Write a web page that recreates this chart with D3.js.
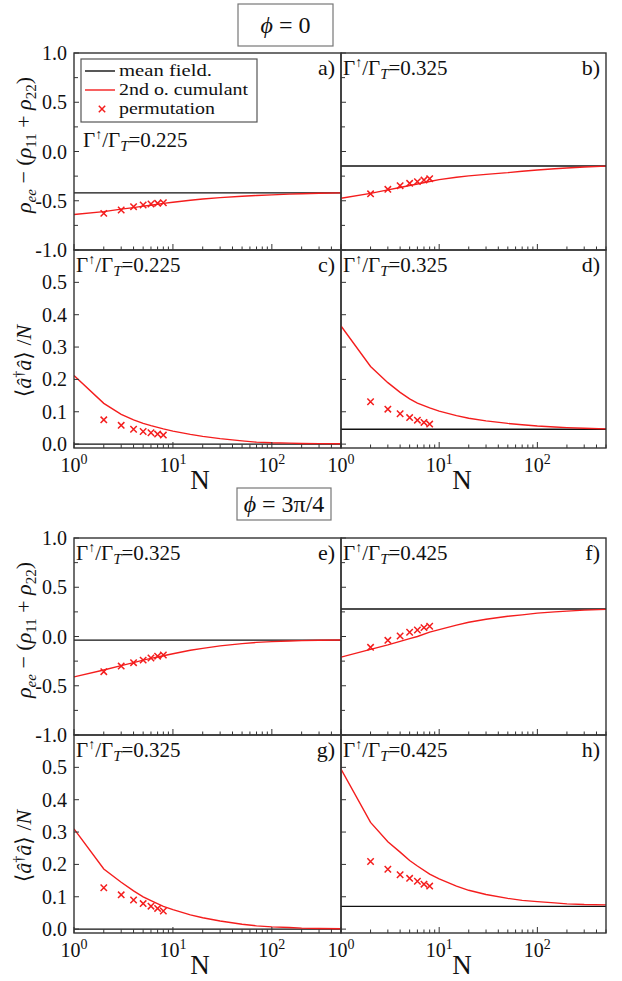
<!DOCTYPE html>
<html><head><meta charset="utf-8">
<script src="https://cdn.jsdelivr.net/npm/d3@7"></script>
<style>
body{margin:0;background:#fff}
svg text{font-family:'Liberation Serif','DejaVu Serif',serif;fill:#111}
</style>
</head><body>
<svg id="chart" width="622" height="981" font-family="Liberation Serif, DejaVu Serif, serif"></svg>
<script>
// ---------------- data ----------------
const nGrid = [1,2,3,4,5,6,8,10,15,20,30,50,70,100,150,200,300,500];
const nPerm = [2,3,4,5,6,7,8];
const panelLetters = ["a","b","c","d","e","f","g","h"];
const gammaLabels = ["0.225","0.325","0.225","0.325","0.325","0.425","0.325","0.425"];
const meanFieldValues = [-0.42,-0.147,0.0,0.046,-0.036,0.279,0.0,0.07];

const cumA = [-0.64,-0.61,-0.585,-0.57,-0.555,-0.545,-0.527,-0.515,-0.495,-0.482,-0.468,-0.455,-0.447,-0.44,-0.433,-0.429,-0.424,-0.42];
const cumB = [-0.475,-0.425,-0.39,-0.365,-0.345,-0.33,-0.305,-0.285,-0.262,-0.248,-0.232,-0.215,-0.2,-0.188,-0.175,-0.167,-0.157,-0.148];
const cumC = [0.212,0.126,0.092,0.075,0.064,0.057,0.047,0.04,0.03,0.024,0.017,0.01,0.006,0.004,0.003,0.002,0.0015,0.001];
const cumD = [0.365,0.24,0.19,0.16,0.14,0.127,0.112,0.102,0.088,0.08,0.072,0.064,0.06,0.056,0.053,0.051,0.049,0.047];
const cumE = [-0.41,-0.34,-0.295,-0.265,-0.24,-0.222,-0.195,-0.175,-0.14,-0.12,-0.095,-0.072,-0.06,-0.052,-0.045,-0.042,-0.038,-0.036];
const cumF = [-0.21,-0.13,-0.085,-0.05,-0.022,0.0,0.045,0.07,0.115,0.145,0.175,0.205,0.22,0.237,0.25,0.258,0.268,0.275];
const cumG = [0.31,0.186,0.145,0.118,0.1,0.088,0.07,0.06,0.044,0.035,0.025,0.015,0.01,0.007,0.005,0.003,0.002,0.001];
const cumH = [0.495,0.33,0.27,0.238,0.212,0.195,0.17,0.155,0.133,0.12,0.107,0.095,0.089,0.085,0.081,0.078,0.076,0.075];

const permA = [-0.628,-0.594,-0.56,-0.543,-0.533,-0.526,-0.52];
const permB = [-0.43,-0.384,-0.347,-0.323,-0.306,-0.29,-0.276];
const permC = [0.075,0.058,0.046,0.039,0.035,0.031,0.028];
const permD = [0.131,0.108,0.094,0.082,0.074,0.067,0.062];
const permE = [-0.357,-0.3,-0.266,-0.24,-0.218,-0.2,-0.188];
const permF = [-0.11,-0.039,0.005,0.043,0.066,0.09,0.104];
const permG = [0.128,0.106,0.09,0.079,0.071,0.064,0.056];
const permH = [0.209,0.185,0.168,0.157,0.148,0.139,0.133];

const cumulants = [cumA,cumB,cumC,cumD,cumE,cumF,cumG,cumH];
const perms = [permA,permB,permC,permD,permE,permF,permG,permH];

const rhoTicks = [-1,-0.5,0,0.5,1];
const rhoMinor = [-0.75,-0.25,0.25,0.75];
const photonTicks = [0,0.1,0.2,0.3,0.4,0.5];
const xMajor = [1,10,100];
const xMinor = [2,3,4,5,6,7,8,9,20,30,40,50,60,70,80,90,200,300,400,500];
const titles = [["ϕ"," = 0"],["ϕ"," = 3π/4"]];
const legendLabels = ["mean field.","2nd o. cumulant","permutation"];

// ---------------- layout ----------------
const FONT = "'Liberation Serif','DejaVu Serif',serif";
const svg = d3.select("#chart");
const colX = [[74,341],[341,606]];
const setTop = [53,538];
const rowH = [197,198];
const RED = "#f41d1d";
const FRAME = "#333";

const defs = svg.append("defs");
function txt(sel){ return sel.append("text").style("font-family",FONT).attr("fill","#111"); }

function gammaText(g, x, y, val){
  const t = txt(g).attr("x",x).attr("y",y).attr("font-size",21);
  t.append("tspan").text("Γ");
  t.append("tspan").text("↑").attr("font-size",14).attr("dy",-8);
  t.append("tspan").text("/Γ").attr("dy",8);
  t.append("tspan").text("T").attr("font-style","italic").attr("font-size",15).attr("dy",4);
  t.append("tspan").text("="+val).attr("dy",-4);
}

panelLetters.forEach((letter,i)=>{
  const set = Math.floor(i/4);
  const row = Math.floor((i%4)/2);
  const col = i%2;
  const x0 = colX[col][0], x1 = colX[col][1];
  const y0 = setTop[set] + (row===0?0:rowH[0]);
  const y1 = y0 + rowH[row];
  const isRho = row===0;

  const x = d3.scaleLog().domain([1,500]).range([x0,x1]);
  const y = isRho ? d3.scaleLinear().domain([-1,1]).range([y1,y0])
                  : d3.scaleLinear().domain([-0.012,0.6]).range([y1,y0]);

  const g = svg.append("g");
  const cid = "clip"+i;
  defs.append("clipPath").attr("id",cid).append("rect")
    .attr("x",x0).attr("y",y0).attr("width",x1-x0).attr("height",y1-y0);
  const plot = g.append("g").attr("clip-path",`url(#${cid})`);

  plot.append("line").attr("x1",x0).attr("x2",x1)
    .attr("y1",y(meanFieldValues[i])).attr("y2",y(meanFieldValues[i]))
    .attr("stroke","#111").attr("stroke-width",1.3);
  const line = d3.line().x((d,k)=>x(nGrid[k])).y(d=>y(d));
  plot.append("path").datum(cumulants[i]).attr("d",line)
    .attr("fill","none").attr("stroke",RED).attr("stroke-width",1.4);
  const s = 3.2;
  perms[i].forEach((v,k)=>{
    const cx = x(nPerm[k]), cy = y(v);
    plot.append("path").attr("d",`M${cx-s},${cy-s}L${cx+s},${cy+s}M${cx-s},${cy+s}L${cx+s},${cy-s}`)
      .attr("stroke",RED).attr("stroke-width",1.5);
  });

  const yT = isRho ? rhoTicks : photonTicks;
  yT.forEach(v=>{
    g.append("line").attr("x1",x0).attr("x2",x0+5).attr("y1",y(v)).attr("y2",y(v)).attr("stroke",FRAME).attr("stroke-width",1);
  });
  if(isRho) rhoMinor.forEach(v=>{
    g.append("line").attr("x1",x0).attr("x2",x0+4).attr("y1",y(v)).attr("y2",y(v)).attr("stroke",FRAME).attr("stroke-width",1);
  });
  if(col===0){
    yT.forEach(v=>{
      txt(g).attr("x",67).attr("y",y(v)).attr("dy","0.35em")
        .attr("text-anchor","end").attr("font-size",20)
        .text(d3.format(".1f")(v).replace("−","-"));
    });
  }
  xMajor.forEach(v=>{
    g.append("line").attr("x1",x(v)).attr("x2",x(v)).attr("y1",y1).attr("y2",y1-6).attr("stroke",FRAME).attr("stroke-width",1);
  });
  xMinor.forEach(v=>{
    g.append("line").attr("x1",x(v)).attr("x2",x(v)).attr("y1",y1).attr("y2",y1-3.5).attr("stroke",FRAME).attr("stroke-width",1);
  });
  if(!isRho){
    xMajor.forEach((v,k)=>{
      const t = txt(g).attr("x",x(v)).attr("y",y1+24).attr("text-anchor","middle").attr("font-size",20);
      t.append("tspan").text("10");
      t.append("tspan").text(String(k)).attr("font-size",14).attr("dy",-8);
    });
    txt(g).attr("x",col===0?200:462).attr("y",y1+41).attr("text-anchor","middle")
      .attr("font-size",27).text("N");
  }

  g.append("rect").attr("x",x0).attr("y",y0).attr("width",x1-x0).attr("height",y1-y0)
    .attr("fill","none").attr("stroke",FRAME).attr("stroke-width",1.4);

  txt(g).attr("x",x1-6).attr("y",y0+22).attr("text-anchor","end").attr("font-size",22).text(letter+")");

  if(i===0) gammaText(g, x0+9, y0+94, gammaLabels[i]);
  else gammaText(g, x0+2, y0+22, gammaLabels[i]);

  if(i===0){
    const lg = g.append("g");
    lg.append("rect").attr("x",81).attr("y",59).attr("width",176).attr("height",63)
      .attr("fill","#fff").attr("stroke","#555").attr("stroke-width",1.2);
    const kinds = [["line","#111"],["line",RED],["cross",RED]];
    const widths = [93,129,96];
    legendLabels.forEach((lab,k)=>{
      const ly = 71 + k*19;
      if(kinds[k][0]==="line"){
        lg.append("line").attr("x1",85).attr("x2",115).attr("y1",ly).attr("y2",ly).attr("stroke",kinds[k][1]).attr("stroke-width",1.4);
      } else {
        const cx=102, s2=3.2;
        lg.append("path").attr("d",`M${cx-s2},${ly-s2}L${cx+s2},${ly+s2}M${cx-s2},${ly+s2}L${cx+s2},${ly-s2}`)
          .attr("stroke",kinds[k][1]).attr("stroke-width",1.5);
      }
      txt(lg).attr("x",119).attr("y",ly).attr("dy","0.32em").attr("font-size",17)
        .attr("textLength",widths[k]).attr("lengthAdjust","spacingAndGlyphs").text(lab);
    });
  }
});

[0,1].forEach(set=>{
  const top = setTop[set];
  const t1 = txt(svg).attr("transform",`translate(31,${top+92}) rotate(-90)`)
    .attr("text-anchor","middle").attr("font-size",22);
  t1.append("tspan").text("ρ").attr("font-style","italic");
  t1.append("tspan").text("ee").attr("font-style","italic").attr("font-size",15).attr("dy",5);
  t1.append("tspan").text(" − (").attr("dy",-5);
  t1.append("tspan").text("ρ").attr("font-style","italic");
  t1.append("tspan").text("11").attr("font-size",15).attr("dy",5);
  t1.append("tspan").text(" + ").attr("dy",-5);
  t1.append("tspan").text("ρ").attr("font-style","italic");
  t1.append("tspan").text("22").attr("font-size",15).attr("dy",5);
  t1.append("tspan").text(")").attr("dy",-5);
  const t2 = txt(svg).attr("transform",`translate(31,${top+308}) rotate(-90)`)
    .attr("text-anchor","middle").attr("font-size",22);
  t2.append("tspan").text("⟨");
  t2.append("tspan").text("â").attr("font-style","italic");
  t2.append("tspan").text("†").attr("font-size",14).attr("dy",-8);
  t2.append("tspan").text("â").attr("font-style","italic").attr("dy",8);
  t2.append("tspan").text("⟩ /");
  t2.append("tspan").text("N").attr("font-style","italic");
});

const boxes = [[238,4,95,42],[237,488,94,32]];
titles.forEach((tt,k)=>{
  const b = boxes[k];
  svg.append("rect").attr("x",b[0]).attr("y",b[1]).attr("width",b[2]).attr("height",b[3])
    .attr("fill","#fff").attr("stroke","#777").attr("stroke-width",1.2);
  const t = txt(svg).attr("x",b[0]+b[2]/2).attr("y",b[1]+b[3]/2).attr("dy","0.35em")
    .attr("text-anchor","middle").attr("font-size",24);
  t.append("tspan").text(tt[0]).attr("font-style","italic");
  t.append("tspan").text(tt[1]);
});
</script>
</body></html>
